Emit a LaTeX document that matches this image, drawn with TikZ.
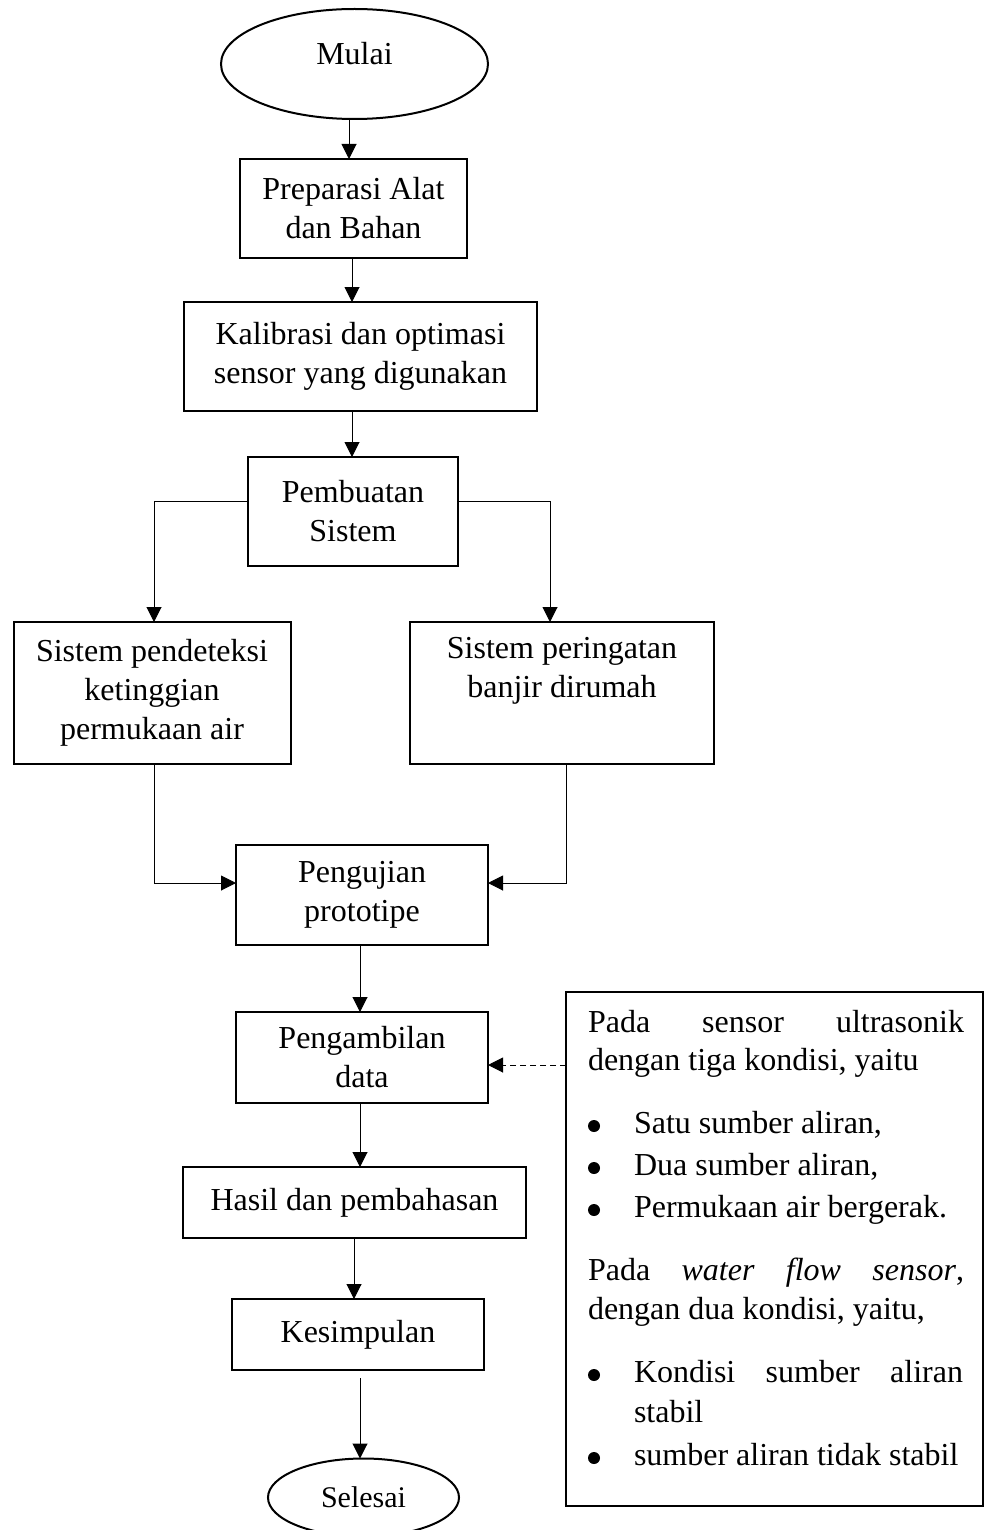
\documentclass[tikz,border=0pt]{standalone}
\usepackage{fontspec}
\setmainfont{Liberation Serif}
\usetikzlibrary{shapes.geometric,arrows.meta}
\begin{document}
\begin{tikzpicture}[x=0.5pt,y=-0.5pt,
  every node/.style={inner sep=0pt,outer sep=0pt},
  box/.style={draw,line width=1pt,rectangle,align=center,font=\fontsize{16}{19.5}\selectfont},
  oval/.style={draw,line width=1pt,ellipse},
  notebox/.style={draw,line width=0.6pt,rectangle},
  txt/.style={font=\fontsize{16}{19.5}\selectfont,anchor=base},
  ntxt/.style={font=\fontsize{16}{19.5}\selectfont,anchor=base west},
  dot/.style={circle,fill=black,minimum size=6pt},
  arr/.style={line width=0.5pt,-{Triangle[length=7.5pt,width=7.5pt]}},
  dasharr/.style={line width=0.5pt,dash pattern=on 3pt off 2pt,-{Triangle[length=7.5pt,width=7.5pt]}}
]
\useasboundingbox (0,0) rectangle (984,1530);

% flowchart nodes
\node[oval,minimum width=133.5pt,minimum height=55pt] (mulai) at (354.5,64) {};
\node[txt] (mulaitxt) at (354.5,65) {Mulai};
\node[box,minimum width=113.5pt,minimum height=49.5pt] (prep) at (353.5,208.5) {Preparasi Alat\\dan Bahan};
\node[box,minimum width=176.5pt,minimum height=54.5pt] (kal) at (360.5,356.5) {Kalibrasi dan optimasi\\sensor yang digunakan};
\node[box,minimum width=105pt,minimum height=54.5pt] (pemb) at (353,511.5) {Pembuatan\\Sistem};
\node[box,minimum width=138.5pt,minimum height=71pt] (left) at (152,693) {Sistem pendeteksi\\ketinggian\\permukaan air};
\node[box,minimum width=152pt,minimum height=71pt] (right) at (562,693) {Sistem peringatan\\banjir dirumah\\\strut};
\node[box,minimum width=126pt,minimum height=50pt] (uji) at (362,895) {Pengujian\\prototipe};
\node[box,minimum width=126pt,minimum height=45.5pt] (ambil) at (362,1057.5) {Pengambilan\\data};
\node[box,minimum width=171.5pt,minimum height=35.5pt] (hasil) at (354.5,1202.5) {Hasil dan pembahasan};
\node[box,minimum width=126pt,minimum height=35.5pt] (kes) at (358,1334.5) {Kesimpulan};
\node[oval,minimum width=95.5pt,minimum height=39pt] (selesai) at (363.5,1497.5) {};
\node[txt,font=\fontsize{15}{18}\selectfont] (selesaitxt) at (363.5,1507) {Selesai};

% note box
\node[notebox,minimum width=208.5pt,minimum height=257pt] (note) at (774.5,1249) {};
\node[ntxt] (n1) at (588,1032) {\hbox to 188pt{Pada\hfill sensor\hfill ultrasonik}};
\node[ntxt] (n2) at (588,1070) {dengan tiga kondisi, yaitu};
\node[dot] (b1) at (594,1126) {};
\node[ntxt] (n3) at (634,1133) {Satu sumber aliran,};
\node[dot] (b2) at (594,1168) {};
\node[ntxt] (n4) at (634,1175) {Dua sumber aliran,};
\node[dot] (b3) at (594,1210) {};
\node[ntxt] (n5) at (634,1217) {Permukaan air bergerak.};
\node[ntxt] (n6) at (588,1280) {\hbox to 188pt{Pada\hfill\textit{water}\hfill\textit{flow}\hfill\textit{sensor},}};
\node[ntxt] (n7) at (588,1319) {dengan dua kondisi, yaitu,};
\node[dot] (b4) at (594,1375) {};
\node[ntxt] (n8) at (634,1382) {\hbox to 164.5pt{Kondisi\hfill sumber\hfill aliran}};
\node[ntxt] (n9) at (634,1422) {stabil};
\node[dot] (b5) at (594,1458) {};
\node[ntxt] (n10) at (634,1465) {sumber aliran tidak stabil};

% helper coordinates
\coordinate (xa) at (349,0);
\coordinate (xb) at (352,0);
\coordinate (xc) at (360,0);
\coordinate (xd) at (354,0);
\coordinate (xl) at (154,0);
\coordinate (xr) at (550,0);
\coordinate (xrr) at (566,0);
\coordinate (yb) at (0,501);
\coordinate (yj) at (0,883);
\coordinate (yd) at (0,1065);
\coordinate (yk) at (0,1378);

% connectors
\draw[arr] (xa |- mulai.south) -- (xa |- prep.north);
\draw[arr] (xb |- prep.south) -- (xb |- kal.north);
\draw[arr] (xb |- kal.south) -- (xb |- pemb.north);
\draw[arr] (pemb.west |- yb) -| (xl |- left.north);
\draw[arr] (pemb.east |- yb) -| (xr |- right.north);
\draw[arr] (xl |- left.south) |- (uji.west |- yj);
\draw[arr] (xrr |- right.south) |- (uji.east |- yj);
\draw[arr] (xc |- uji.south) -- (xc |- ambil.north);
\draw[dasharr] (note.west |- yd) -- (ambil.east |- yd);
\draw[arr] (xc |- ambil.south) -- (xc |- hasil.north);
\draw[arr] (xd |- hasil.south) -- (xd |- kes.north);
\draw[arr] (xc |- yk) -- (xc |- selesai.north);
\end{tikzpicture}
\end{document}
